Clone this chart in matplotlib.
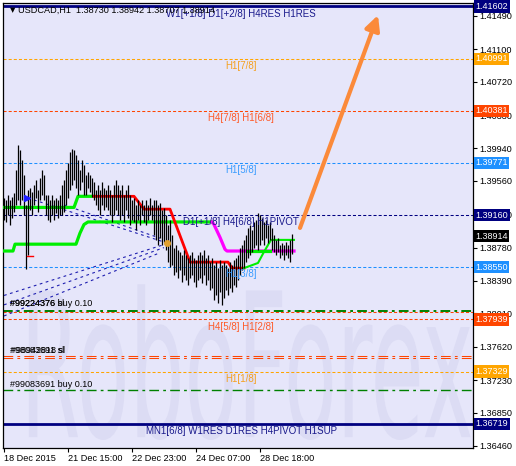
import matplotlib
matplotlib.use('Agg')
import matplotlib.pyplot as plt
import matplotlib.transforms as mtransforms
from matplotlib.textpath import TextPath
from matplotlib.patches import PathPatch
from matplotlib.font_manager import FontProperties

plt.rcParams['font.family'] = ['Liberation Sans', 'DejaVu Sans']
plt.rcParams['lines.scale_dashes'] = False

# H1 bars, USDCAD, 18 Dec 2015 onwards (one entry per hour)
highs = [1.3936, 1.3934, 1.3940, 1.3934, 1.3937, 1.3942, 1.3969, 1.3998, 1.3992, 1.3981,
         1.3963, 1.3928, 1.3945, 1.3948, 1.3943, 1.3951, 1.3957, 1.3945, 1.3959, 1.3969,
         1.3963, 1.3940, 1.3940, 1.3934, 1.3940, 1.3934, 1.3936, 1.3934, 1.3940, 1.3951,
         1.3957, 1.3969, 1.3977, 1.3990, 1.3993, 1.3992, 1.3986, 1.3981, 1.3969, 1.3981,
         1.3975, 1.3963, 1.3967, 1.3963, 1.3959, 1.3955, 1.3945, 1.3951, 1.3945, 1.3955,
         1.3948, 1.3945, 1.3951, 1.3945, 1.3940, 1.3951, 1.3957, 1.3951, 1.3945, 1.3951,
         1.3940, 1.3945, 1.3951, 1.3940, 1.3934, 1.3936, 1.3928, 1.3934, 1.3928, 1.3934,
         1.3928, 1.3934, 1.3928, 1.3936, 1.3928, 1.3934, 1.3934, 1.3928, 1.3930, 1.3922,
         1.3924, 1.3916, 1.3905, 1.3910, 1.3893, 1.3878, 1.3881, 1.3875, 1.3873, 1.3869,
         1.3875, 1.3869, 1.3866, 1.3869, 1.3873, 1.3866, 1.3864, 1.3869, 1.3873, 1.3869,
         1.3875, 1.3866, 1.3869, 1.3861, 1.3866, 1.3858, 1.3861, 1.3854, 1.3864, 1.3858,
         1.3861, 1.3858, 1.3854, 1.3861, 1.3858, 1.3864, 1.3866, 1.3869, 1.3878, 1.3881,
         1.3887, 1.3893, 1.3901, 1.3905, 1.3899, 1.3908, 1.3910, 1.3919, 1.3916, 1.3913,
         1.3908, 1.3910, 1.3905, 1.3908, 1.3901, 1.3893, 1.3887, 1.3889, 1.3881, 1.3883,
         1.3881, 1.3885, 1.3881, 1.3887, 1.38942]
lows = [1.3910, 1.3908, 1.3916, 1.3905, 1.3913, 1.3920, 1.3928, 1.3934, 1.3928, 1.3934,
        1.3916, 1.3853, 1.3869, 1.3922, 1.3916, 1.3928, 1.3936, 1.3920, 1.3934, 1.3940,
        1.3934, 1.3916, 1.3910, 1.3908, 1.3916, 1.3910, 1.3918, 1.3913, 1.3916, 1.3916,
        1.3920, 1.3928, 1.3936, 1.3945, 1.3951, 1.3957, 1.3948, 1.3940, 1.3945, 1.3955,
        1.3940, 1.3940, 1.3948, 1.3943, 1.3937, 1.3934, 1.3928, 1.3922, 1.3916, 1.3928,
        1.3922, 1.3926, 1.3922, 1.3916, 1.3908, 1.3916, 1.3922, 1.3916, 1.3910, 1.3916,
        1.3908, 1.3922, 1.3913, 1.3905, 1.3910, 1.3908, 1.3899, 1.3910, 1.3905, 1.3916,
        1.3908, 1.3905, 1.3910, 1.3916, 1.3910, 1.3893, 1.3887, 1.3881, 1.3889, 1.3881,
        1.3885, 1.3875, 1.3861, 1.3855, 1.3858, 1.3846, 1.3850, 1.3843, 1.3852, 1.3838,
        1.3846, 1.3840, 1.3834, 1.3843, 1.3846, 1.3838, 1.3832, 1.3840, 1.3843, 1.3837,
        1.3846, 1.3834, 1.3840, 1.3828, 1.3831, 1.3817, 1.3823, 1.3813, 1.3826, 1.3811,
        1.3819, 1.3828, 1.3823, 1.3831, 1.3826, 1.3834, 1.3832, 1.3840, 1.3846, 1.3852,
        1.3854, 1.3861, 1.3866, 1.3869, 1.3873, 1.3878, 1.3881, 1.3875, 1.3881, 1.3887,
        1.3881, 1.3889, 1.3883, 1.3887, 1.3875, 1.3873, 1.3869, 1.3873, 1.3866, 1.3869,
        1.3864, 1.3869, 1.3866, 1.3861, 1.38707]

# indicator step lines (bar index, price)
green_a_x = [0, 35, 37, 45]
green_a_y = [1.3925, 1.3925, 1.3938, 1.3938]
red_x = [45, 65, 70, 83, 93, 112, 114, 120]
red_y = [1.3938, 1.3938, 1.3923, 1.3923, 1.3861, 1.3861, 1.3854, 1.3854]
green_c_x = [120, 127, 130, 133.5, 145]
green_c_y = [1.3854, 1.3860, 1.3873, 1.3887, 1.3887]
green_b_x = [0, 4.5, 5.5, 36, 38, 40, 42, 104]
green_b_y = [1.3874, 1.3874, 1.3882, 1.3882, 1.3895, 1.3905, 1.3908, 1.3908]
magenta_x = [104, 105, 108, 110.5, 111.5, 145]
magenta_y = [1.3908, 1.3905, 1.3890, 1.3876, 1.3874, 1.3874]
green_d_x = [122, 133]
green_d_y = [1.3874, 1.3874]

# dotted trend lines
fan_lines = [([12, 82], [1.3936, 1.3883]),
             ([30, 78], [1.3928, 1.3889]),
             ([0, 82], [1.3822, 1.3883]),
             ([0, 80], [1.3811, 1.3878]),
             ([0, 78], [1.3798, 1.3872])]

# Murrey levels
levels = [1.41602, 1.40991, 1.40381, 1.39771, 1.39160, 1.38550, 1.37939, 1.37329, 1.36719]
level_names = ["W1[+1/8] D1[+2/8] H4RES H1RES", "H1[7/8]", "H4[7/8] H1[6/8]", "H1[5/8]",
               "D1[+1/8] H4[6/8] H1PIVOT", "H1[3/8]", "H4[5/8] H1[2/8]", "H1[1/8]",
               "MN1[6/8] W1RES D1RES H4PIVOT H1SUP"]
level_colors = ['#000080', '#FFA500', '#FF4500', '#1E90FF', '#000080', '#1E90FF',
                '#FF4500', '#FFA500', '#000080']
label_colors = ['#1a1a8c', '#f5a020', '#ff5a28', '#3a9cff', '#1a1a8c', '#3a9cff',
                '#ff5a28', '#f5a020', '#1a1a8c']

last_close = 1.38914
yticks = [1.41490, 1.41100, 1.40720, 1.40330, 1.39940, 1.39560, 1.39170, 1.38780,
          1.38390, 1.38010, 1.37620, 1.37230, 1.36850, 1.36460]
xtick_pos = [0, 32, 64, 96, 128]
xtick_labels = ['18 Dec 2015', '21 Dec 15:00', '22 Dec 23:00', '24 Dec 07:00', '28 Dec 18:00']

fig = plt.figure(figsize=(5.16, 4.66), dpi=100)
ax = fig.add_axes([3 / 516, 18 / 466, 470 / 516, 445 / 466])
ax.set_facecolor('#E6E6FA')
ax.set_xlim(-0.5, 234.5)
ax.set_ylim(1.36435, 1.41642)

# watermark
tp = TextPath((0, 0), "RoboForex", size=1, prop=FontProperties(family='DejaVu Sans'))
ext = tp.get_extents()
tr = (mtransforms.Affine2D().translate(-ext.x0, -ext.y0)
      .scale(0.94 / ext.width, 0.35 / ext.height).translate(0.055, 0.018) + ax.transAxes)
ax.add_patch(PathPatch(tp, transform=tr, fc='#dcdcf4', ec='none', zorder=0))
ax.text(322, 1.36615, 'ОСТОВ – ПОЛУЧАЙ ПРИБЫЛЬ', fontsize=6.5, color='#d4d4ec',
        va='center', zorder=0.5)

# levels
for p, name, c, lc in zip(levels, level_names, level_colors, label_colors):
    if name.startswith('W1') or name.startswith('MN1'):
        ax.axhline(p, color=c, lw=2, zorder=1)
    else:
        ax.axhline(p, color=c, lw=0.75, ls=(0, (2.2, 1.5)), zorder=1)
    ax.annotate(name, (118.5, p), xytext=(0, -1.5), textcoords='offset points',
                ha='center', va='top', fontsize=7, color=lc, zorder=4)

# orders
ax.axhline(1.38027, color='#FF4500', lw=0.75, ls=(0, (2.2, 1.5)), zorder=1)
ax.axhline(1.38040, color='#008000', lw=1.4, ls=(0, (7, 3, 2, 3)), zorder=1)
ax.axhline(1.37515, color='#FF4500', lw=0.75, ls=(0, (7, 3, 2, 3)), zorder=1)
ax.axhline(1.37485, color='#FF4500', lw=0.75, ls=(0, (7, 3, 2, 3)), zorder=1)
ax.axhline(1.37114, color='#008000', lw=1.0, ls=(0, (7, 3, 2, 3)), zorder=1)
ax.text(3, 1.3812, '#99224376 buy 0.10', fontsize=6.5, va='center', zorder=4)
ax.text(3, 1.3812, '#99224376 sl', fontsize=6.5, va='center', zorder=4)
ax.text(3, 1.3758, '#98083691 sl', fontsize=6.5, va='center', zorder=4)
ax.text(3.5, 1.3758, '#98942818 sl', fontsize=6.5, va='center', zorder=4)
ax.text(3, 1.3718, '#99083691 buy 0.10', fontsize=6.5, va='center', zorder=4)

# trend lines
for xs, ys in fan_lines:
    ax.plot(xs, ys, color='#1f1fb0', lw=0.8, ls=(0, (2, 2.5)), zorder=2)

# indicator lines
ax.plot(green_b_x, green_b_y, color='#00ee00', lw=2.3, zorder=3)
ax.plot(green_a_x, green_a_y, color='#00ee00', lw=2.3, zorder=3)
ax.plot(red_x, red_y, color='#ff0000', lw=2.0, zorder=3)
ax.plot(magenta_x, magenta_y, color='#ff00ff', lw=2.3, zorder=3)
ax.plot(green_c_x, green_c_y, color='#00ee00', lw=1.5, zorder=3)
ax.plot(green_d_x, green_d_y, color='#00ee00', lw=2.3, zorder=3)

# price bars
idx = list(range(len(highs)))
ax.vlines(idx, lows, highs, color='black', lw=0.9, zorder=3.5)

# markers
ax.plot([11.5], [1.3936], marker='>', color='#1a1aff', ms=5, zorder=4)
ax.plot([11.5, 14.5], [1.3868, 1.3868], color='red', lw=1, zorder=4)
ax.plot([81.5], [1.3883], marker='o', color='#e0a030', ms=4, zorder=4)

# forecast arrow
ax.annotate('', xy=(187, 1.4150), xytext=(148, 1.3901),
            arrowprops=dict(arrowstyle='-|>', lw=3, color='#fb8a3a',
                            mutation_scale=22, shrinkA=0, shrinkB=0), zorder=5)

# title line
ax.text(0.015, 0.984, '▼', transform=ax.transAxes, fontsize=5, va='center',
        family='DejaVu Sans', zorder=6)
ax.text(0.032, 0.984, 'USDCAD,H1  1.38730 1.38942 1.38707 1.38914', transform=ax.transAxes,
        fontsize=6.6, va='center', zorder=6)

# axes
ax.yaxis.tick_right()
ax.set_yticks(yticks)
ax.set_yticklabels([f'{v:.5f}' for v in yticks])
ax.set_xticks(xtick_pos)
ax.set_xticklabels(xtick_labels)
for lab in ax.get_xticklabels():
    lab.set_ha('left')
ax.tick_params(axis='both', labelsize=6.6, length=3, width=0.8, direction='out', pad=1.5)
for s in ax.spines.values():
    s.set_linewidth(0.9)

blend = mtransforms.blended_transform_factory(ax.transAxes, ax.transData)
for p, c in zip(levels + [last_close], level_colors + ['black']):
    ax.text(1.005, p, f'{p:.5f}', transform=blend, fontsize=6.5, color='white',
            va='center', ha='left', zorder=10, clip_on=False,
            bbox=dict(boxstyle='square,pad=0.18', fc=c, ec='none'))

fig.savefig('out.png', dpi=100, facecolor='white')
